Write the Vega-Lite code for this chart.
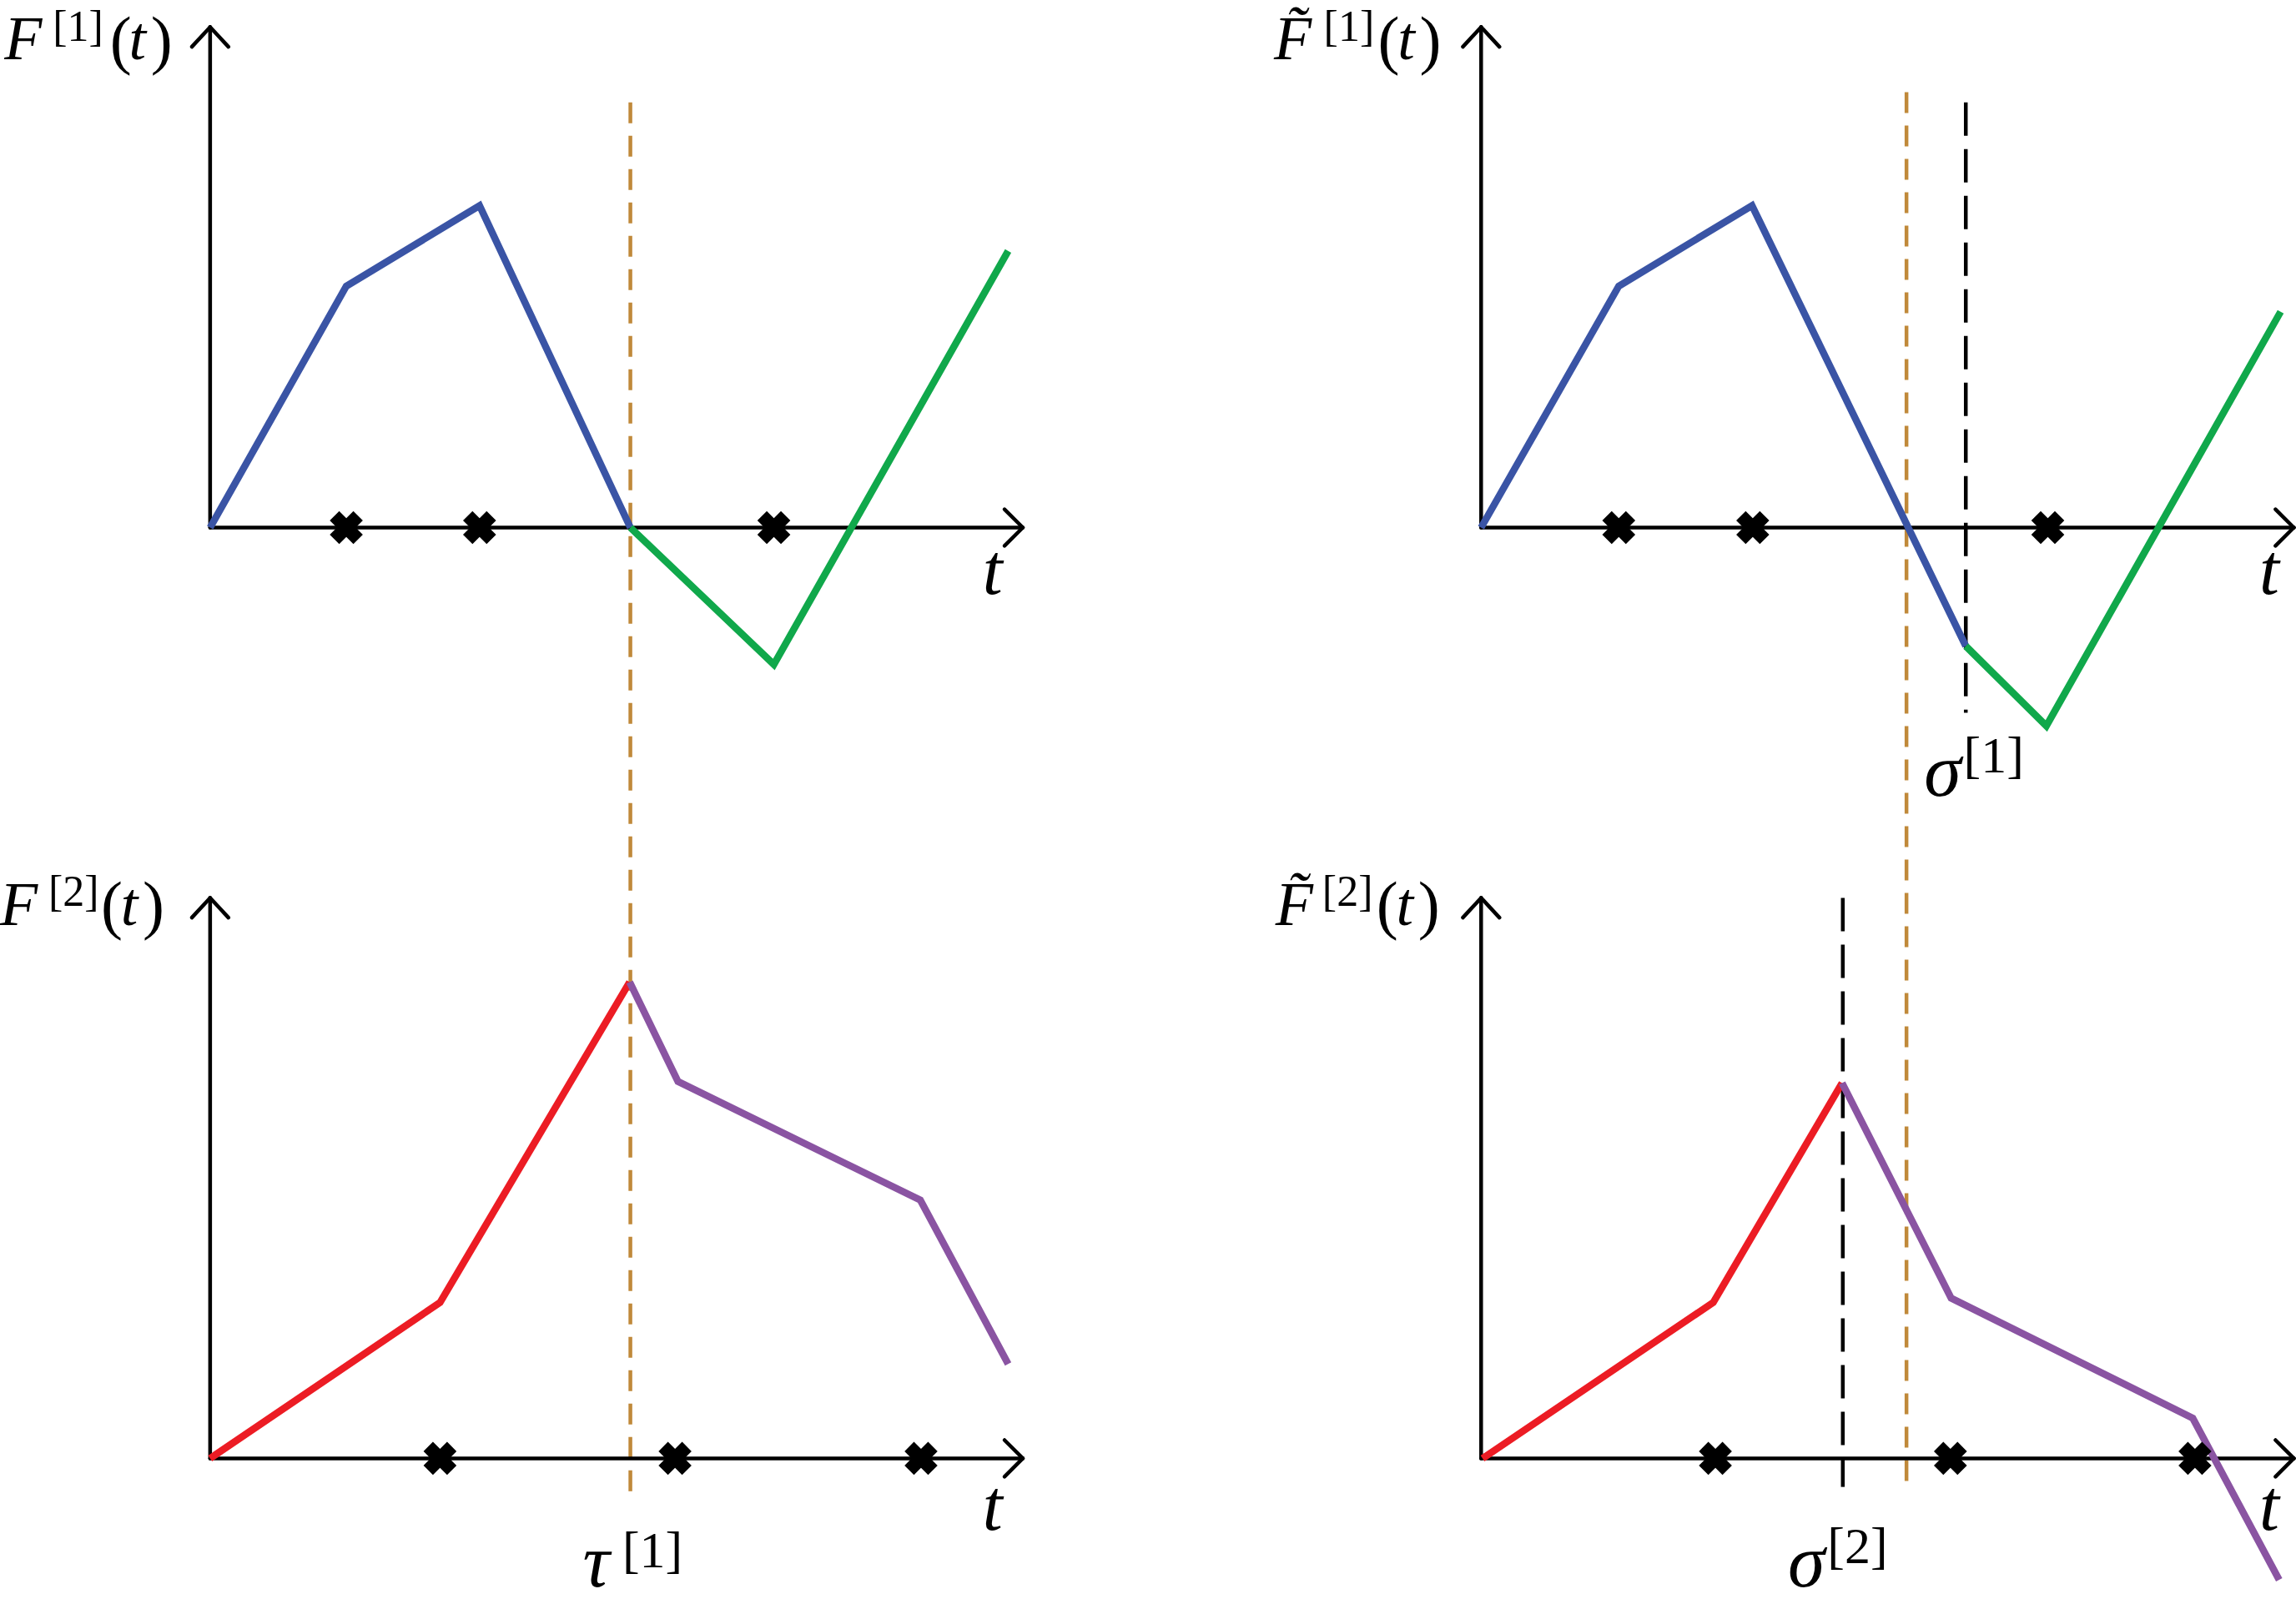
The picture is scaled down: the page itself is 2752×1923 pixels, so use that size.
{
  "$schema": "https://vega.github.io/schema/vega-lite/v6.json",
  "description": "Four piecewise-linear sketches F[1], F~[1], F[2], F~[2] with switching times tau and sigma.",
  "width": 2752,
  "height": 1923,
  "autosize": {"type": "none"},
  "padding": 0,
  "background": "white",
  "config": {"view": {"stroke": null}},
  "datasets": {
    "curves": [
      {"seg": "F1 a", "part": "F1 first", "k": 0, "x": 143.5, "y": 360.5},
      {"seg": "F1 a", "part": "F1 first", "k": 1, "x": 236.5, "y": 195.5},
      {"seg": "F1 a", "part": "F1 first", "k": 2, "x": 327.5, "y": 140.5},
      {"seg": "F1 a", "part": "F1 first", "k": 3, "x": 430.5, "y": 360.5},
      {"seg": "F1 b", "part": "F1 second", "k": 0, "x": 430.5, "y": 360.5},
      {"seg": "F1 b", "part": "F1 second", "k": 1, "x": 528.5, "y": 454},
      {"seg": "F1 b", "part": "F1 second", "k": 2, "x": 688.5, "y": 171.5},
      {"seg": "F1t a", "part": "F1 first", "k": 0, "x": 1011.5, "y": 360.5},
      {"seg": "F1t a", "part": "F1 first", "k": 1, "x": 1105.5, "y": 195.5},
      {"seg": "F1t a", "part": "F1 first", "k": 2, "x": 1196.5, "y": 140.5},
      {"seg": "F1t a", "part": "F1 first", "k": 3, "x": 1342.5, "y": 441.5},
      {"seg": "F1t b", "part": "F1 second", "k": 0, "x": 1342.5, "y": 441.5},
      {"seg": "F1t b", "part": "F1 second", "k": 1, "x": 1397.5, "y": 496},
      {"seg": "F1t b", "part": "F1 second", "k": 2, "x": 1557.5, "y": 213},
      {"seg": "F2 a", "part": "F2 first", "k": 0, "x": 143.5, "y": 996.5},
      {"seg": "F2 a", "part": "F2 first", "k": 1, "x": 300.5, "y": 890},
      {"seg": "F2 a", "part": "F2 first", "k": 2, "x": 430, "y": 671},
      {"seg": "F2 b", "part": "F2 second", "k": 0, "x": 430, "y": 671},
      {"seg": "F2 b", "part": "F2 second", "k": 1, "x": 463, "y": 739},
      {"seg": "F2 b", "part": "F2 second", "k": 2, "x": 628.5, "y": 820},
      {"seg": "F2 b", "part": "F2 second", "k": 3, "x": 688.5, "y": 932},
      {"seg": "F2t a", "part": "F2 first", "k": 0, "x": 1012.5, "y": 996.5},
      {"seg": "F2t a", "part": "F2 first", "k": 1, "x": 1170, "y": 890},
      {"seg": "F2t a", "part": "F2 first", "k": 2, "x": 1258, "y": 740},
      {"seg": "F2t b", "part": "F2 second", "k": 0, "x": 1258, "y": 740},
      {"seg": "F2t b", "part": "F2 second", "k": 1, "x": 1332.5, "y": 887},
      {"seg": "F2t b", "part": "F2 second", "k": 2, "x": 1497.5, "y": 969},
      {"seg": "F2t b", "part": "F2 second", "k": 3, "x": 1556.5, "y": 1079.5}
    ],
    "axes": [
      {"x": 143.5, "y": 360.5, "x2": 143.5, "y2": 18.5},
      {"x": 143.5, "y": 360.5, "x2": 698.5, "y2": 360.5},
      {"x": 143.5, "y": 18.5, "x2": 131, "y2": 32},
      {"x": 143.5, "y": 18.5, "x2": 156, "y2": 32},
      {"x": 698.5, "y": 360.5, "x2": 686, "y2": 348},
      {"x": 698.5, "y": 360.5, "x2": 686, "y2": 373},
      {"x": 1011.5, "y": 360.5, "x2": 1011.5, "y2": 18.5},
      {"x": 1011.5, "y": 360.5, "x2": 1566.5, "y2": 360.5},
      {"x": 1011.5, "y": 18.5, "x2": 999, "y2": 32},
      {"x": 1011.5, "y": 18.5, "x2": 1024, "y2": 32},
      {"x": 1566.5, "y": 360.5, "x2": 1554, "y2": 348},
      {"x": 1566.5, "y": 360.5, "x2": 1554, "y2": 373},
      {"x": 143.5, "y": 996.5, "x2": 143.5, "y2": 613.5},
      {"x": 143.5, "y": 996.5, "x2": 698.5, "y2": 996.5},
      {"x": 143.5, "y": 613.5, "x2": 131, "y2": 627},
      {"x": 143.5, "y": 613.5, "x2": 156, "y2": 627},
      {"x": 698.5, "y": 996.5, "x2": 686, "y2": 984},
      {"x": 698.5, "y": 996.5, "x2": 686, "y2": 1009},
      {"x": 1011.5, "y": 996.5, "x2": 1011.5, "y2": 613.5},
      {"x": 1011.5, "y": 996.5, "x2": 1566.5, "y2": 996.5},
      {"x": 1011.5, "y": 613.5, "x2": 999, "y2": 627},
      {"x": 1011.5, "y": 613.5, "x2": 1024, "y2": 627},
      {"x": 1566.5, "y": 996.5, "x2": 1554, "y2": 984},
      {"x": 1566.5, "y": 996.5, "x2": 1554, "y2": 1009}
    ],
    "guides": [
      {"kind": "tau", "x": 430.5, "y": 70, "y2": 1022},
      {"kind": "tau", "x": 1302, "y": 63, "y2": 1016},
      {"kind": "sigma", "x": 1342.5, "y": 70, "y2": 487},
      {"kind": "sigma", "x": 1258.5, "y": 613.5, "y2": 1016}
    ],
    "crosses": [
      {"x": 236.5, "y": 360.5}, {"x": 327.5, "y": 360.5}, {"x": 528.5, "y": 360.5},
      {"x": 1105.5, "y": 360.5}, {"x": 1197, "y": 360.5}, {"x": 1398.5, "y": 360.5},
      {"x": 300.5, "y": 996.5}, {"x": 461, "y": 996.5}, {"x": 629, "y": 996.5},
      {"x": 1171.5, "y": 996.5}, {"x": 1332, "y": 996.5}, {"x": 1499, "y": 996.5}
    ],
    "symbols": [
      {"label": "F", "x": 3, "y": 40.5},
      {"label": "F̃", "x": 870, "y": 40.5},
      {"label": "F", "x": 0, "y": 632},
      {"label": "F̃", "x": 871, "y": 632},
      {"label": "t", "x": 88, "y": 40.5},
      {"label": "t", "x": 954.5, "y": 40.5},
      {"label": "t", "x": 82.5, "y": 632},
      {"label": "t", "x": 953.5, "y": 632}
    ],
    "parens": [
      {"label": "(", "x": 75, "y": 42}, {"label": ")", "x": 103, "y": 42},
      {"label": "(", "x": 941, "y": 42}, {"label": ")", "x": 969.5, "y": 42},
      {"label": "(", "x": 69, "y": 633}, {"label": ")", "x": 97.5, "y": 633},
      {"label": "(", "x": 940, "y": 633}, {"label": ")", "x": 968.5, "y": 633}
    ],
    "superscripts": [
      {"label": "[1]", "x": 36, "y": 28},
      {"label": "[1]", "x": 904, "y": 28},
      {"label": "[2]", "x": 33, "y": 619},
      {"label": "[2]", "x": 903, "y": 619}
    ],
    "axisNames": [
      {"label": "t", "x": 671, "y": 406},
      {"label": "t", "x": 1543, "y": 406},
      {"label": "t", "x": 671, "y": 1045},
      {"label": "t", "x": 1543, "y": 1045}
    ],
    "times": [
      {"label": "τ", "x": 398, "y": 1084},
      {"label": "σ", "x": 1314, "y": 544},
      {"label": "σ", "x": 1221, "y": 1084}
    ],
    "timeIndices": [
      {"label": "[1]", "x": 425, "y": 1071},
      {"label": "[1]", "x": 1341, "y": 528},
      {"label": "[2]", "x": 1248, "y": 1068}
    ]
  },
  "encoding": {
    "x": {"field": "x", "type": "quantitative", "axis": null,
          "scale": {"domain": [0, 1568], "nice": false, "zero": false}},
    "y": {"field": "y", "type": "quantitative", "axis": null,
          "scale": {"domain": [0, 1096], "nice": false, "zero": false, "reverse": true}}
  },
  "layer": [
    {
      "data": {"name": "guides"},
      "transform": [{"filter": "datum.kind == 'tau'"}],
      "mark": {"type": "rule", "color": "#c0893a", "strokeWidth": 4.5, "strokeDash": [25, 15]},
      "encoding": {"y2": {"field": "y2"}}
    },
    {
      "data": {"name": "guides"},
      "transform": [{"filter": "datum.kind == 'sigma'"}],
      "mark": {"type": "rule", "color": "black", "strokeWidth": 4.5, "strokeDash": [40, 16]},
      "encoding": {"y2": {"field": "y2"}}
    },
    {
      "data": {"name": "axes"},
      "mark": {"type": "rule", "color": "black", "strokeWidth": 4.5, "strokeCap": "round"},
      "encoding": {"x2": {"field": "x2"}, "y2": {"field": "y2"}}
    },
    {
      "data": {"name": "curves"},
      "mark": {"type": "line", "strokeWidth": 8.5, "strokeJoin": "miter", "strokeCap": "butt"},
      "encoding": {
        "detail": {"field": "seg"},
        "order": {"field": "k", "type": "quantitative"},
        "color": {
          "field": "part", "type": "nominal", "legend": null,
          "scale": {"domain": ["F1 first", "F1 second", "F2 first", "F2 second"],
                    "range": ["#3a54a5", "#10a84b", "#ec1c24", "#8a54a2"]}
        }
      }
    },
    {
      "data": {"name": "crosses"},
      "mark": {"type": "point", "shape": "cross", "angle": 45, "filled": true,
               "color": "black", "opacity": 1, "size": 1600}
    },
    {
      "data": {"name": "symbols"},
      "mark": {"type": "text", "font": "Liberation Serif", "fontStyle": "italic",
               "fontSize": 74, "align": "left", "baseline": "alphabetic", "color": "black"},
      "encoding": {"text": {"field": "label"}}
    },
    {
      "data": {"name": "parens"},
      "mark": {"type": "text", "font": "Liberation Serif", "fontSize": 78,
               "align": "left", "baseline": "alphabetic", "color": "black"},
      "encoding": {"text": {"field": "label"}}
    },
    {
      "data": {"name": "superscripts"},
      "mark": {"type": "text", "font": "Liberation Serif", "fontSize": 52,
               "align": "left", "baseline": "alphabetic", "color": "black"},
      "encoding": {"text": {"field": "label"}}
    },
    {
      "data": {"name": "axisNames"},
      "mark": {"type": "text", "font": "Liberation Serif", "fontStyle": "italic",
               "fontSize": 86, "align": "left", "baseline": "alphabetic", "color": "black"},
      "encoding": {"text": {"field": "label"}}
    },
    {
      "data": {"name": "times"},
      "mark": {"type": "text", "font": "Liberation Serif", "fontStyle": "italic",
               "fontSize": 90, "align": "left", "baseline": "alphabetic", "color": "black"},
      "encoding": {"text": {"field": "label"}}
    },
    {
      "data": {"name": "timeIndices"},
      "mark": {"type": "text", "font": "Liberation Serif", "fontSize": 62,
               "align": "left", "baseline": "alphabetic", "color": "black"},
      "encoding": {"text": {"field": "label"}}
    }
  ]
}
